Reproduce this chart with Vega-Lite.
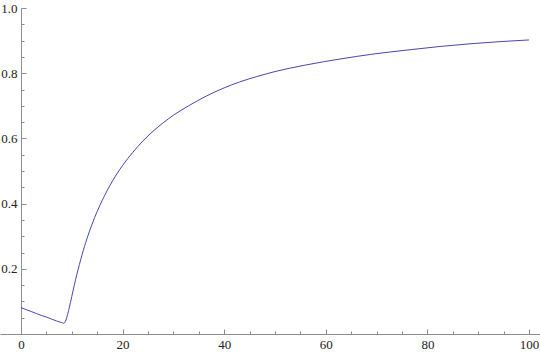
{
  "$schema": "https://vega.github.io/schema/vega-lite/v6.json",
  "width": 540,
  "height": 326,
  "autosize": {"type": "none"},
  "padding": {"left": 0, "top": 8, "right": 0, "bottom": 21},
  "background": "white",
  "config": {
    "view": {"stroke": null},
    "axis": {
      "labelFont": "Liberation Serif",
      "labelFontSize": 13,
      "labelColor": "#222222",
      "domainColor": "#8c8c8c",
      "tickColor": "#8c8c8c",
      "domainWidth": 1,
      "tickWidth": 1,
      "grid": false,
      "title": null
    }
  },
  "data": {
    "values": [
      {"x": 0, "y": 0.081},
      {"x": 1, "y": 0.075},
      {"x": 2, "y": 0.069},
      {"x": 3, "y": 0.063},
      {"x": 4, "y": 0.057},
      {"x": 5, "y": 0.052},
      {"x": 6, "y": 0.046},
      {"x": 7, "y": 0.040},
      {"x": 8, "y": 0.035},
      {"x": 8.4, "y": 0.033},
      {"x": 8.7, "y": 0.037},
      {"x": 9.0, "y": 0.05},
      {"x": 9.5, "y": 0.08},
      {"x": 10, "y": 0.115},
      {"x": 10.5, "y": 0.15},
      {"x": 11, "y": 0.183},
      {"x": 11.5, "y": 0.213},
      {"x": 12, "y": 0.242},
      {"x": 13, "y": 0.293},
      {"x": 14, "y": 0.337},
      {"x": 15, "y": 0.376},
      {"x": 16, "y": 0.41},
      {"x": 17, "y": 0.441},
      {"x": 18, "y": 0.469},
      {"x": 20, "y": 0.517},
      {"x": 22, "y": 0.557},
      {"x": 24, "y": 0.592},
      {"x": 26, "y": 0.622},
      {"x": 28, "y": 0.648},
      {"x": 30, "y": 0.671},
      {"x": 33, "y": 0.7},
      {"x": 36.5, "y": 0.73},
      {"x": 40, "y": 0.755},
      {"x": 43, "y": 0.773},
      {"x": 46.5, "y": 0.79},
      {"x": 50, "y": 0.805},
      {"x": 56, "y": 0.825},
      {"x": 63, "y": 0.844},
      {"x": 69, "y": 0.858},
      {"x": 76, "y": 0.871},
      {"x": 82.5, "y": 0.882},
      {"x": 89, "y": 0.891},
      {"x": 100, "y": 0.902}
    ]
  },
  "layer": [
    {
      "mark": {"type": "line", "color": "#4747b0", "strokeWidth": 1, "interpolate": "monotone"},
      "encoding": {
        "x": {
          "field": "x",
          "type": "quantitative",
          "scale": {"domain": [-4.13, 102.17], "nice": false, "zero": false},
          "axis": {
            "orient": "bottom",
            "values": [0, 20, 40, 60, 80, 100],
            "tickSize": -5,
            "labelPadding": 9,
            "labelFlush": false
          }
        },
        "y": {
          "field": "y",
          "type": "quantitative",
          "scale": {"domain": [0, 1], "nice": false, "zero": false},
          "axis": {
            "orient": "left",
            "offset": -21,
            "values": [0.2, 0.4, 0.6, 0.8, 1.0],
            "format": ".1f",
            "tickSize": -5,
            "labelPadding": 9,
            "labelFlush": false
          }
        }
      }
    },
    {
      "mark": {"type": "line", "opacity": 0},
      "encoding": {
        "x": {
          "field": "x",
          "type": "quantitative",
          "axis": {
            "orient": "bottom",
            "values": [5, 10, 15, 25, 30, 35, 45, 50, 55, 65, 70, 75, 85, 90, 95],
            "tickSize": -3,
            "labels": false,
            "domain": false
          }
        },
        "y": {
          "field": "y",
          "type": "quantitative",
          "axis": {
            "orient": "left",
            "offset": -21,
            "values": [0.05, 0.1, 0.15, 0.25, 0.3, 0.35, 0.45, 0.5, 0.55, 0.65, 0.7, 0.75, 0.85, 0.9, 0.95],
            "tickSize": -3,
            "labels": false,
            "domain": false
          }
        }
      }
    }
  ],
  "resolve": {"axis": {"x": "independent", "y": "independent"}}
}
